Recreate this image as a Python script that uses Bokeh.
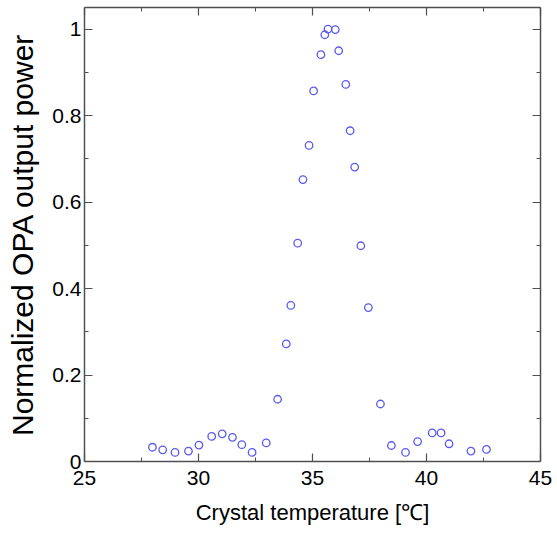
from bokeh.plotting import figure
from bokeh.models import LinearAxis, FixedTicker, CustomJSTickFormatter, Range1d
from bokeh.embed import file_html
from bokeh.resources import INLINE

temperature = [27.98, 28.43, 28.97, 29.56, 30.02, 30.58, 31.04, 31.49, 31.90, 32.35,
               32.97, 33.47, 33.85, 34.05, 34.35, 34.58, 34.85, 35.05, 35.37, 35.54,
               35.68, 36.00, 36.15, 36.46, 36.65, 36.85, 37.12, 37.45, 37.98, 38.46,
               39.08, 39.61, 40.25, 40.64, 40.99, 41.95, 42.63]
power = [0.033, 0.027, 0.021, 0.024, 0.038, 0.058, 0.064, 0.056, 0.039, 0.021,
         0.043, 0.144, 0.272, 0.361, 0.505, 0.652, 0.731, 0.857, 0.941, 0.987,
         1.000, 0.999, 0.950, 0.872, 0.765, 0.681, 0.499, 0.356, 0.133, 0.037,
         0.021, 0.046, 0.066, 0.066, 0.041, 0.024, 0.028]

x_ticks = [25, 30, 35, 40, 45]
x_minor = [27.5, 32.5, 37.5, 42.5]
y_ticks = [0, 0.2, 0.4, 0.6, 0.8, 1]
y_minor = [0.1, 0.3, 0.5, 0.7, 0.9]

p = figure(width=552, height=529, output_backend="svg", toolbar_location=None,
           x_range=Range1d(25, 45), y_range=Range1d(0, 1.05),
           x_axis_type=None, y_axis_type=None,
           min_border_left=84, min_border_right=12, min_border_top=7, min_border_bottom=68)
p.xgrid.visible = False
p.ygrid.visible = False
p.outline_line_color = None
p.background_fill_color = "white"

fmt = CustomJSTickFormatter(code="return tick.toString();")
blank = CustomJSTickFormatter(code="return '';")

def style(ax, labels=True):
    ax.axis_line_color = "#505050"
    ax.axis_line_width = 1.5
    ax.major_tick_line_color = "#505050"
    ax.minor_tick_line_color = "#505050"
    ax.major_tick_line_width = 1.2
    ax.minor_tick_line_width = 1.0
    ax.major_tick_in = 8
    ax.major_tick_out = 0
    ax.minor_tick_in = 4
    ax.minor_tick_out = 0
    ax.major_label_text_font = "Liberation Sans"
    ax.major_label_text_font_size = "21px"
    ax.major_label_text_color = "black"
    ax.axis_label_text_font = "Liberation Sans"
    ax.axis_label_text_font_style = "normal"
    ax.axis_label_text_color = "black"
    if not labels:
        ax.formatter = blank
        ax.major_label_standoff = 0

xb = LinearAxis(ticker=FixedTicker(ticks=x_ticks, minor_ticks=x_minor), formatter=fmt,
                axis_label="Crystal temperature [\u2103]")
style(xb)
xb.axis_label_text_font_size = "22px"
xb.major_label_standoff = 9
xb.axis_label_standoff = 12
p.add_layout(xb, "below")

yl = LinearAxis(ticker=FixedTicker(ticks=y_ticks, minor_ticks=y_minor), formatter=fmt,
                axis_label="Normalized OPA output power")
style(yl)
yl.axis_label_text_font_size = "30px"
yl.major_label_standoff = 3
yl.axis_label_standoff = 10
p.add_layout(yl, "left")

xt = LinearAxis(ticker=FixedTicker(ticks=x_ticks, minor_ticks=x_minor))
style(xt, labels=False)
p.add_layout(xt, "above")

yr = LinearAxis(ticker=FixedTicker(ticks=y_ticks, minor_ticks=y_minor))
style(yr, labels=False)
p.add_layout(yr, "right")

p.scatter(temperature, power, marker="circle", size=7.5, fill_color=None,
          line_color="#5a5af0", line_width=1.3)

open("out.html", "w").write(file_html(p, INLINE))
